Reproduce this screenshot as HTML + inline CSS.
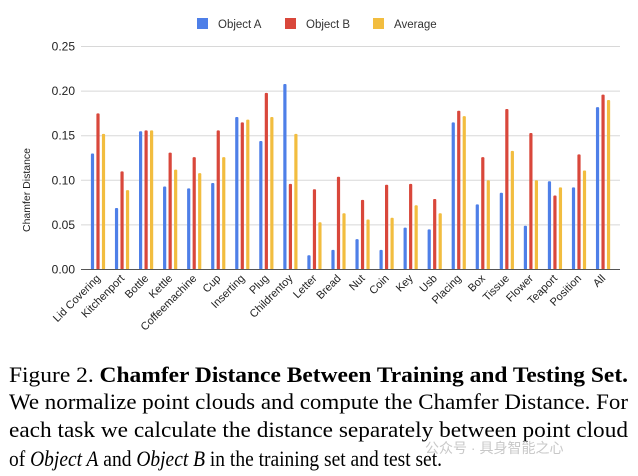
<!DOCTYPE html>
<html><head><meta charset="utf-8"><style>
body{margin:0;background:#fff;}
svg{display:block;}
.sans{font-family:"Liberation Sans",sans-serif;}
.serif{font-family:"Liberation Serif",serif;}
</style></head><body>
<svg id="chart" width="638" height="476" viewBox="0 0 638 476" xmlns="http://www.w3.org/2000/svg">
<g id="legend" class="sans" font-size="11.5" fill="#333">
<g><rect x="197" y="18" width="11" height="11" fill="#4e7fe8"/><text x="218" y="28">Object A</text></g>
<g><rect x="285" y="18" width="11" height="11" fill="#d9473b"/><text x="306" y="28">Object B</text></g>
<g><rect x="373" y="18" width="11" height="11" fill="#f2bd3f"/><text x="394" y="28">Average</text></g>
</g>
<g id="grid"></g>
<g id="yticks" class="sans" font-size="12" fill="#222"></g>
<text class="sans" transform="translate(30,190) rotate(-90)" text-anchor="middle" font-size="10.5" fill="#222">Chamfer Distance</text>
<g id="bars"></g>
<line x1="81" y1="269.5" x2="620" y2="269.5" stroke="#555" stroke-width="1"/>
<g id="xlabels" class="sans" font-size="11" fill="#222"></g>
<g class="serif" font-size="22.5" fill="#000">
<text x="9" y="382" textLength="619" lengthAdjust="spacingAndGlyphs">Figure 2. <tspan font-weight="bold">Chamfer Distance Between Training and Testing Set.</tspan></text>
<text x="9" y="409" textLength="619" lengthAdjust="spacingAndGlyphs">We normalize point clouds and compute the Chamfer Distance. For</text>
<text x="9" y="437" textLength="619" lengthAdjust="spacingAndGlyphs">each task we calculate the distance separately between point cloud</text>
<text x="9" y="466" textLength="433" lengthAdjust="spacingAndGlyphs">of  <tspan font-style="italic">Object A</tspan> and  <tspan font-style="italic">Object B</tspan> in the training set and test set.</text>
</g>
<text x="425" y="453" style="font-family:'Liberation Sans','Noto Sans CJK SC',sans-serif" font-size="14" fill="#bbb" opacity="0.8">公众号 · 具身智能之心</text>
</svg>
<script>
const categories=["Lid Covering","Kitchenport","Bottle","Kettle","Coffeemachine","Cup","Inserting","Plug","Childrentoy","Letter","Bread","Nut","Coin","Key","Usb","Placing","Box","Tissue","Flower","Teaport","Position","All"];
const objectA=[0.130,0.069,0.155,0.093,0.091,0.097,0.171,0.144,0.208,0.016,0.022,0.034,0.022,0.047,0.045,0.165,0.073,0.086,0.049,0.099,0.092,0.182];
const objectB=[0.175,0.110,0.156,0.131,0.126,0.156,0.165,0.198,0.096,0.090,0.104,0.078,0.095,0.096,0.079,0.178,0.126,0.180,0.153,0.083,0.129,0.196];
const average=[0.152,0.089,0.156,0.112,0.108,0.126,0.168,0.171,0.152,0.053,0.063,0.056,0.058,0.072,0.063,0.172,0.100,0.133,0.100,0.092,0.111,0.190];
const yTicks=[0,0.05,0.10,0.15,0.20,0.25];
const yTickLabels=["0.00","0.05","0.10","0.15","0.20","0.25"];
const NS="http://www.w3.org/2000/svg";
const y0=269.5,yTop=46.5,vmax=0.25;
const yScale=v=>y0-(v/vmax)*(y0-yTop);
const xCenter=i=>98+i*24.05;
function mk(t,a,p){const e=document.createElementNS(NS,t);for(const k in a)e.setAttribute(k,a[k]);p.appendChild(e);return e;}
const grid=document.getElementById('grid'),yt=document.getElementById('yticks');
yTicks.forEach((v,i)=>{
  const y=yScale(v);
  if(v>0){const l=mk('line',{x1:81,x2:620,y1:y,y2:y,stroke:'#d8d8d8','stroke-width':1},grid);
  
  }
  const t=mk('text',{x:75,y:y+4,'text-anchor':'end'},yt);t.textContent=yTickLabels[i];
  
  
});
const bars=document.getElementById('bars');
const series=[[objectA,'#4e7fe8',-5.5,'object-a'],[objectB,'#d9473b',0,'object-b'],[average,'#f2bd3f',5.5,'average']];
categories.forEach((c,i)=>{
  series.forEach(([arr,col,off,nm])=>{
    const y=yScale(arr[i]);
    const r=mk('rect',{x:xCenter(i)+off-1.6,y:y,width:3.2,height:y0-y,fill:col,rx:1},bars);
    
    
  });
});
const xl=document.getElementById('xlabels');
categories.forEach((c,i)=>{
  const x=xCenter(i)+3,y=279;
  const t=mk('text',{x:x,y:y,'text-anchor':'end',transform:`rotate(-45 ${x} ${y})`},xl);
  t.textContent=c;
  
  
});
</script>
</body></html>
